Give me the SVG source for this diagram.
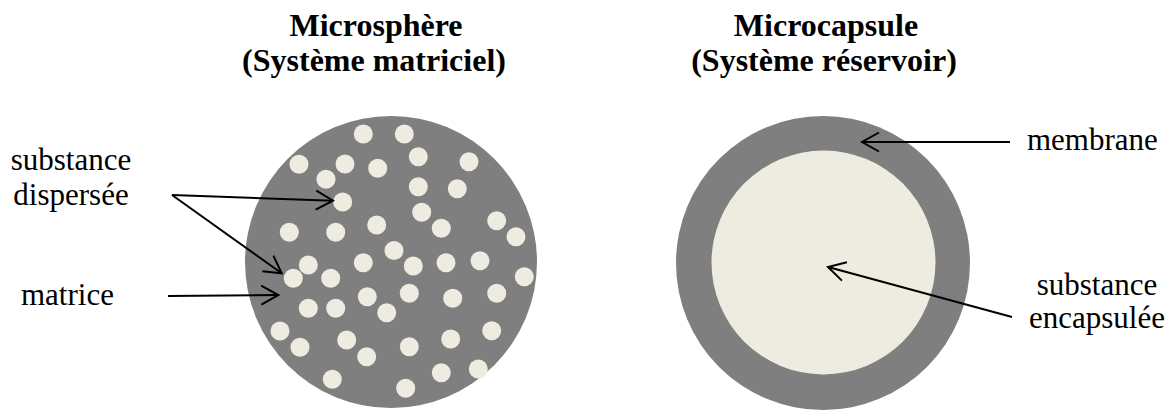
<svg xmlns="http://www.w3.org/2000/svg" width="1171" height="412" viewBox="0 0 1171 412">
<style>
.title{font-family:"Liberation Serif","Times New Roman",serif;font-weight:bold;font-size:32px;fill:#000;text-anchor:middle}
.lbl{font-family:"Liberation Serif","Times New Roman",serif;font-size:31px;fill:#000}
.mid{text-anchor:middle}
.shell{fill:#7f7f7f}
.core{fill:#eeece1}
.conn line{stroke:#000;stroke-width:2;fill:none;marker-end:url(#arr)}
</style>
<defs>
<marker id="arr" markerUnits="userSpaceOnUse" viewBox="-20 -12 22 24" refX="0" refY="0" markerWidth="22" markerHeight="24" orient="auto" overflow="visible">
<path d="M-17,-9.5 L0,0 L-17,9.5" fill="none" stroke="#000" stroke-width="2"/>
</marker>
</defs>
<rect width="1171" height="412" fill="#fff"/>
<g id="title-microsphere">
<text class="title" x="376" y="36">Microsphère</text>
<text class="title" x="374" y="71">(Système matriciel)</text>
</g>
<g id="title-microcapsule">
<text class="title" x="826" y="36">Microcapsule</text>
<text class="title" x="824" y="71">(Système réservoir)</text>
</g>
<g id="microsphere">
<circle class="shell" cx="391" cy="262" r="146"/>
<g class="core">
<circle cx="363.3" cy="134" r="9.5"/><circle cx="404.3" cy="134" r="9.5"/><circle cx="418.3" cy="156.7" r="9.5"/>
<circle cx="469" cy="161.7" r="9.5"/><circle cx="299" cy="164.3" r="9.5"/><circle cx="345" cy="164" r="9.5"/>
<circle cx="377.7" cy="168.3" r="9.5"/><circle cx="326" cy="179.3" r="9.5"/><circle cx="418.3" cy="186.7" r="9.5"/>
<circle cx="457.3" cy="188.7" r="9.5"/><circle cx="342.7" cy="202" r="9.5"/><circle cx="421.7" cy="212.3" r="9.5"/>
<circle cx="496.7" cy="220.7" r="9.5"/><circle cx="376.7" cy="225" r="9.5"/><circle cx="441.3" cy="228.3" r="9.5"/>
<circle cx="289.3" cy="232.3" r="9.5"/><circle cx="335.7" cy="232.3" r="9.5"/><circle cx="516" cy="236.7" r="9.5"/>
<circle cx="394" cy="250.5" r="9.5"/><circle cx="308.3" cy="265" r="9.5"/><circle cx="363.3" cy="262.7" r="9.5"/>
<circle cx="413.3" cy="266" r="9.5"/><circle cx="446" cy="262.7" r="9.5"/><circle cx="480" cy="260.7" r="9.5"/>
<circle cx="293.3" cy="278.3" r="9.5"/><circle cx="330.7" cy="278.3" r="9.5"/><circle cx="524.3" cy="276.7" r="9.5"/>
<circle cx="367.3" cy="296.7" r="9.5"/><circle cx="409.3" cy="293.3" r="9.5"/><circle cx="452.7" cy="298.3" r="9.5"/>
<circle cx="496.7" cy="293.3" r="9.5"/><circle cx="308.3" cy="308.3" r="9.5"/><circle cx="335.7" cy="308.3" r="9.5"/>
<circle cx="386.7" cy="312.7" r="9.5"/><circle cx="280" cy="331" r="9.5"/><circle cx="491.7" cy="330.7" r="9.5"/>
<circle cx="346.7" cy="340" r="9.5"/><circle cx="409.3" cy="346.7" r="9.5"/><circle cx="450.7" cy="339" r="9.5"/>
<circle cx="300" cy="347.3" r="9.5"/><circle cx="366.7" cy="356.7" r="9.5"/><circle cx="478.3" cy="369" r="9.5"/>
<circle cx="441.3" cy="372.7" r="9.5"/><circle cx="332.3" cy="379.3" r="9.5"/><circle cx="405.7" cy="388.3" r="9.5"/>
</g>
</g>
<g id="microcapsule">
<circle class="shell" cx="823" cy="263" r="147"/>
<circle class="core" cx="823.5" cy="262.5" r="112"/>
</g>
<g id="label-substance-dispersee">
<text class="lbl mid" x="71" y="170">substance</text>
<text class="lbl mid" x="71" y="205">dispersée</text>
</g>
<g id="label-matrice">
<text class="lbl" x="21" y="305">matrice</text>
</g>
<g id="label-membrane">
<text class="lbl" x="1027" y="150">membrane</text>
</g>
<g id="label-substance-encapsulee">
<text class="lbl mid" x="1097" y="295">substance</text>
<text class="lbl mid" x="1097" y="328">encapsulée</text>
</g>
<g id="connectors" class="conn">
<line x1="172" y1="195" x2="333" y2="200.7"/>
<line x1="172" y1="195" x2="281.7" y2="273.3"/>
<line x1="168" y1="296" x2="278.3" y2="295"/>
<line x1="1010" y1="142" x2="862" y2="142"/>
<line x1="1012" y1="317" x2="828" y2="267"/>
</g>
</svg>
